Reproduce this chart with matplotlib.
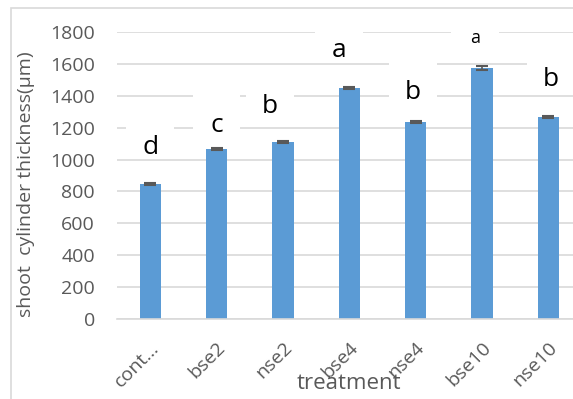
import matplotlib.pyplot as plt
from matplotlib.patches import Rectangle
import numpy as np

plt.rcParams['font.family'] = ['Open Sans', 'DejaVu Sans']

# data
treatments = ['cont…', 'bse2', 'nse2', 'bse4', 'nse4', 'bse10', 'nse10']
thickness = [848, 1064, 1110, 1448, 1235, 1573, 1266]
errors = [5, 5, 6, 5, 9, 12, 5]

# significance letters (baseline height, small nudge in x)
letters = ['d', 'c', 'b', 'a', 'b', 'a', 'b']
letter_y = [1035, 1174, 1290, 1640, 1379, 1728, 1462]
letter_dx = [0.0, 0.0, -0.19, -0.15, -0.04, -0.1, 0.04]
letter_size = [19, 19, 19, 19, 19, 13, 19]

grey = '#595959'
blue = '#5B9BD5'
gridc = '#D9D9D9'

fig = plt.figure(figsize=(5.73, 3.99), dpi=100)
ax = fig.add_axes([117/573, 79.7/399, 464.5/573, 287.6/399])

x = np.arange(len(treatments))
ax.bar(x, thickness, width=0.32, color=blue, zorder=2,
       yerr=errors, error_kw=dict(ecolor=grey, elinewidth=1.2, capsize=4, capthick=1.5, zorder=3))

# letters sit in white text boxes that hide the gridlines behind them
for i in range(len(letters)):
    xl = x[i] + letter_dx[i]
    ax.add_patch(Rectangle((xl - 0.36, letter_y[i] - 20), 0.72, 282,
                           facecolor='white', edgecolor='none', zorder=1))
    ax.text(xl, letter_y[i], letters[i], ha='center', va='baseline',
            fontsize=letter_size[i], color='black', zorder=4)

ax.set_xlim(-0.5, len(treatments) - 0.5)
ax.set_ylim(0, 1800)
ax.set_yticks(np.arange(0, 1801, 200))
ax.set_xticks(x)
ax.set_xticklabels(treatments, rotation=45, ha='right', rotation_mode='anchor')

ax.set_axisbelow(True)
ax.yaxis.grid(True, color=gridc, linewidth=1.2, zorder=0)
for s in ['top', 'right', 'left']:
    ax.spines[s].set_visible(False)
ax.spines['bottom'].set_color(gridc)
ax.spines['bottom'].set_linewidth(1.2)
ax.tick_params(axis='y', length=0, pad=16, labelsize=14, labelcolor=grey)
ax.tick_params(axis='x', length=0, pad=14, labelsize=14, labelcolor=grey)

ax.set_ylabel('shoot  cylinder thickness(μm)', fontsize=14, color=grey)
ax.yaxis.set_label_coords(-0.1765, 0.469)
ax.set_xlabel('treatment', fontsize=16, color=grey, va='center')
ax.xaxis.set_label_coords(0.4995, -0.2215)

# chart frame, clipped at right and bottom like the screenshot
fig.patches.append(Rectangle((11/573, -0.1), 1.2, 0.1 + 391/399, transform=fig.transFigure,
                             fill=False, edgecolor=gridc, linewidth=1.2))

fig.savefig('out.png', dpi=100)
